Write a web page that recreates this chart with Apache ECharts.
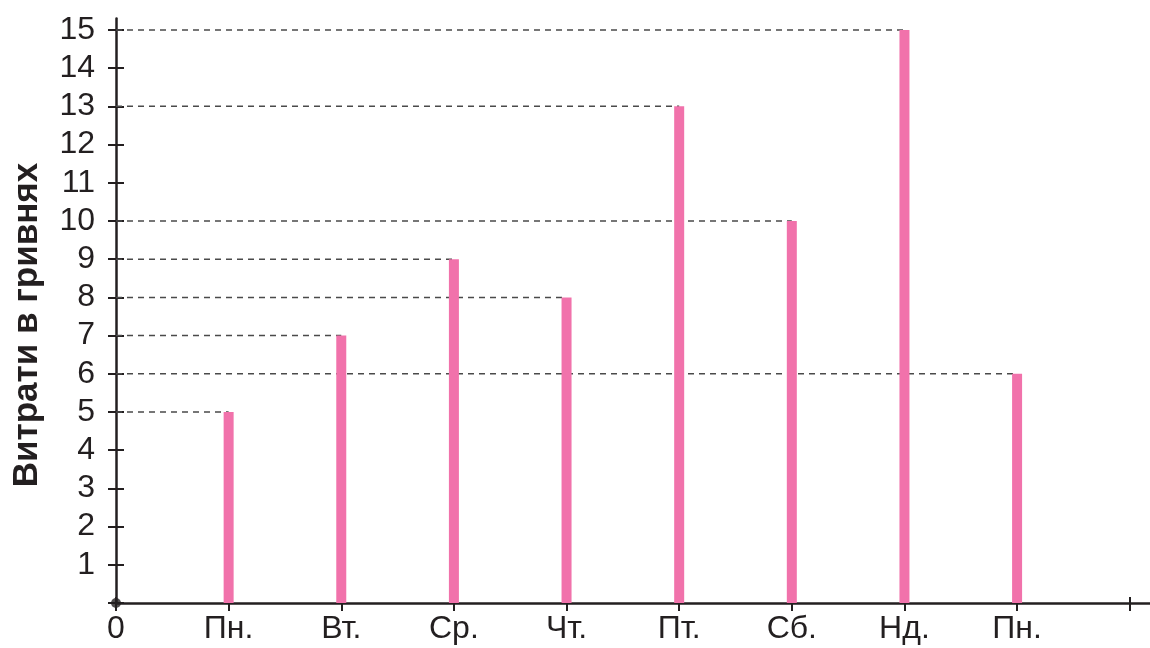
<!DOCTYPE html>
<html>
<head>
<meta charset="utf-8">
<script src="https://cdn.jsdelivr.net/npm/echarts@6/dist/echarts.min.js"></script>
<style>
  html, body { margin: 0; padding: 0; background: #fff; }
  #chart { width: 1150px; height: 648px; }
</style>
</head>
<body>
<div id="chart"></div>
<script>
// Daily spending, UAH
const days = ['Пн.', 'Вт.', 'Ср.', 'Чт.', 'Пт.', 'Сб.', 'Нд.', 'Пн.'];
const spending = [5, 7, 9, 8, 13, 10, 15, 6];
const yTicks = [0, 1, 2, 3, 4, 5, 6, 7, 8, 9, 10, 11, 12, 13, 14, 15];
const xTicks = [0, 1, 2, 3, 4, 5, 6, 7, 8, 9];
const origin = [[0, 0]];
const yTitle = 'Витрати в гривнях';

const FONT = '"Liberation Sans", Arial, sans-serif';
const INK = '#231f20';
const PINK = '#f172ab';

// day i sits at x = i + 1; x = 0 is the origin
const barData = spending.map((v, i) => [i + 1, v]);

const guideSeries = spending.map((v, i) => ({
  type: 'line',
  data: [[0, v], [i + 1, v]],
  symbol: 'none',
  silent: true,
  z: 1,
  lineStyle: { color: '#4a4a4a', width: 1.5, type: [6, 5] }
}));

const xLabel = (val) => (val === 0 ? '0' : (days[val - 1] || ''));

const chart = echarts.init(document.getElementById('chart'), null, { renderer: 'canvas' });
chart.setOption({
  animation: false,
  backgroundColor: '#fff',
  grid: { left: 116, right: 0, top: 18.5, bottom: 45, containLabel: false, outerBoundsMode: 'none' },
  graphic: [{
    type: 'text',
    x: 27, y: 325,
    rotation: Math.PI / 2,
    style: {
      text: yTitle,
      fontFamily: FONT, fontSize: 35, fontWeight: 'bold', fill: INK,
      align: 'center', verticalAlign: 'middle'
    }
  }],
  xAxis: [
    {
      type: 'value', min: 0, max: 9.18, interval: 1,
      axisLine: { show: true, lineStyle: { color: INK, width: 2.5 } },
      axisTick: { show: true, inside: false, length: 8, customValues: xTicks, lineStyle: { color: INK, width: 2 } },
      axisLabel: { show: true, customValues: xTicks, formatter: xLabel, margin: 10, fontFamily: FONT, fontSize: 32, color: INK },
      splitLine: { show: false }
    },
    {
      type: 'value', min: 0, max: 9.18, interval: 1, position: 'bottom',
      axisLine: { show: false },
      axisTick: { show: true, inside: true, length: 6, customValues: xTicks, lineStyle: { color: INK, width: 2 } },
      axisLabel: { show: false },
      splitLine: { show: false }
    }
  ],
  yAxis: [
    {
      type: 'value', min: 0, max: 15.3, interval: 1,
      axisLine: { show: true, lineStyle: { color: INK, width: 2.5 } },
      axisTick: { show: true, inside: false, length: 8, customValues: yTicks, lineStyle: { color: INK, width: 2 } },
      axisLabel: {
        show: true, margin: 21, fontFamily: FONT, fontSize: 32, color: INK,
        customValues: yTicks.filter(v => v > 0),
        formatter: (v) => String(v)
      },
      splitLine: { show: false }
    },
    {
      type: 'value', min: 0, max: 15.3, interval: 1, position: 'left',
      axisLine: { show: false },
      axisTick: { show: true, inside: true, length: 8, customValues: yTicks, lineStyle: { color: INK, width: 2 } },
      axisLabel: { show: false },
      splitLine: { show: false }
    }
  ],
  series: [
    ...guideSeries,
    {
      type: 'bar',
      data: barData,
      barWidth: 10,
      z: 3,
      itemStyle: { color: PINK }
    },
    {
      type: 'scatter',
      data: origin,
      symbolSize: 10,
      clip: false,
      z: 5,
      itemStyle: { color: INK }
    }
  ]
});
</script>
</body>
</html>
